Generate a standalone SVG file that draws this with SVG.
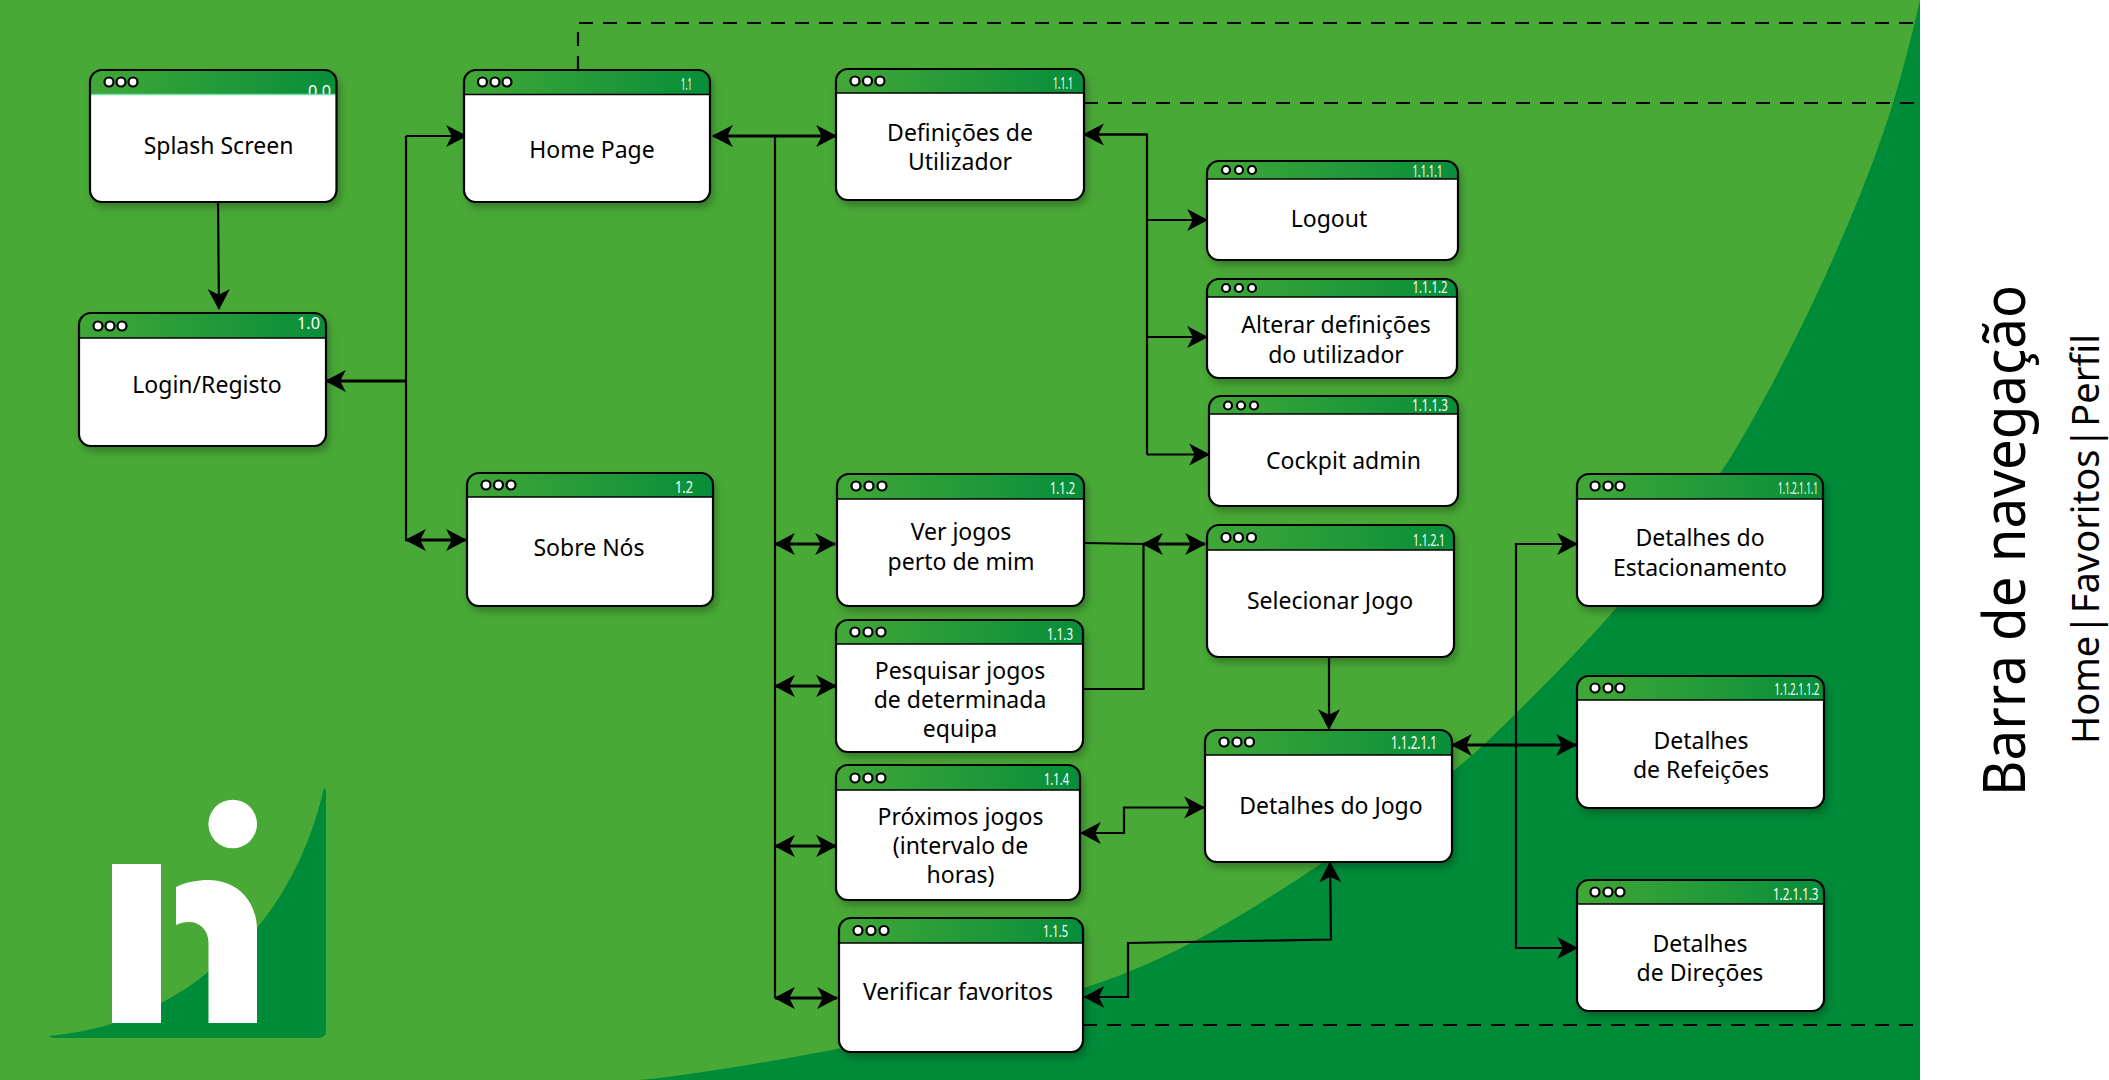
<svg xmlns="http://www.w3.org/2000/svg" width="2109" height="1080" viewBox="0 0 2109 1080">
<defs>
<linearGradient id="hg" x1="0" y1="0" x2="1" y2="0"><stop offset="0" stop-color="#41a737"/><stop offset="1" stop-color="#078e3a"/></linearGradient>
<filter id="sh" x="-10%" y="-10%" width="125%" height="130%"><feDropShadow dx="3" dy="5" stdDeviation="4" flood-color="#000" flood-opacity="0.3"/></filter>
<marker id="ah" markerUnits="userSpaceOnUse" markerWidth="22" markerHeight="24" refX="18" refY="10" orient="auto-start-reverse" viewBox="0 0 20 20"><path d="M0,0 L19,10 L0,20 L5,10 Z" fill="#000"/></marker>
<style>
.box{fill:#fff;filter:url(#sh)}
.ol{fill:none;stroke:#000;stroke-width:2.2}
.hd{fill:url(#hg)}
.hl{stroke:#000;stroke-width:1.5}
.dot{fill:#fff;stroke:#000;stroke-width:2.2}
.lb{font-family:"Noto Sans","Liberation Sans",sans-serif;font-size:23px;fill:#000;text-anchor:middle}
.cd{font-family:"Noto Sans","Liberation Sans",sans-serif;font-size:16px;fill:#fff}
.c{fill:none;stroke:#000;stroke-width:2.2}
.a{marker-end:url(#ah)}
.b{marker-start:url(#ah);marker-end:url(#ah)}
.h{stroke-width:3}
.d{fill:none;stroke:#000;stroke-width:2.2;stroke-dasharray:14 10}
.side{font-family:"Noto Sans","Liberation Sans",sans-serif;fill:#000}
</style>
</defs>
<rect width="2109" height="1080" fill="#48a936"/>
<path d="M640 1080 C700 1075 920 1040 1084 988 C1170 961 1245 915 1325 861 C1390 818 1450 780 1500 729 C1540 690 1580 650 1618 606 C1660 555 1700 505 1729 460 C1790 360 1860 210 1893 103 C1903 70 1912 35 1920 0 L1920 1080 Z" fill="#008b38"/>
<rect x="1920" y="0" width="189" height="1080" fill="#fff"/>
<g id="logo">
<path d="M49 1036 C90 1032 130 1021 161 1003 C180 993 195 983 208 972 C225 959 243 945 257 928 C290 888 312 840 324 788 Q326 788 326 792 L326 1030 Q326 1038 318 1038 L54 1038 Q51 1038 49 1036 Z" fill="#008b38"/>
<rect x="112" y="864" width="49" height="159" fill="#fff"/>
<circle cx="232.7" cy="824" r="24.3" fill="#fff"/>
<path d="M176 887 C186 882 198 880 208 880 C238 880 257 902 257 930 L257 1023 L208.5 1023 L208.5 943 C208.5 930 200 922 189 922 C184 922 180 923 176 925 Z" fill="#fff"/>
</g>
<g id="connectors">
<path class="d" d="M578 70 V23 H1920"/>
<path class="d" d="M1084 103 H1920"/>
<path class="d" d="M1083 1025 H1920"/>
<path class="c a" d="M218 202 L219 309"/>
<path class="c" d="M406 136 V541"/>
<path class="c a" d="M406 136 H466"/>
<path class="c a h" d="M406 381 H326"/>
<path class="c b h" d="M406 540 H466"/>
<path class="c b h" d="M713 136 H836"/>
<path class="c" d="M775 136 V998"/>
<path class="c b h" d="M775 544 H835"/>
<path class="c b h" d="M775 686 H836"/>
<path class="c b h" d="M775 846 H836"/>
<path class="c b h" d="M775 998 H837"/>
<path class="c" d="M1084 134.500 H1147 V454.500"/>
<path class="c a" d="M1147 134.500 H1084"/>
<path class="c a" d="M1147 220 H1207"/>
<path class="c a" d="M1147 337 H1207"/>
<path class="c a" d="M1147 454.500 H1209"/>
<path class="c" d="M1084 543 L1143.500 544 V689 H1083"/>
<path class="c b h" d="M1143 544 H1205"/>
<path class="c a" d="M1329 657 V729"/>
<path class="c b" d="M1081 833 H1124 V807.500 H1204"/>
<path class="c b" d="M1084.500 997 H1128 V943 L1331 939.500 L1330 862.500"/>
<path class="c" d="M1577 544 H1516 V948 H1577"/>
<path class="c a" d="M1516 544 H1577"/>
<path class="c a" d="M1516 948 H1577"/>
<path class="c b h" d="M1452 745 H1576"/>
</g>
<g id="n00"><rect class="box" x="90" y="70" width="246.500" height="132" rx="12"/><path class="hd" d="M90 94.500 V82 Q90 70 102 70 H324.500 Q336.500 70 336.500 82 V94.500 Z"/><text class="cd" x="308" y="97" textLength="23" lengthAdjust="spacingAndGlyphs" style="font-size:17px">0.0</text><rect x="90" y="94.500" width="246.500" height="30" fill="#fff"/><path class="hl" d="M90 94.500 H336.500" style="stroke:#7da"/><circle class="dot" cx="109" cy="82" r="4.500"/><circle class="dot" cx="121" cy="82" r="4.500"/><circle class="dot" cx="133" cy="82" r="4.500"/><rect class="ol" x="90" y="70" width="246.500" height="132" rx="12"/><text class="lb" x="218.500" y="154">Splash Screen</text></g>
<g id="n10"><rect class="box" x="79" y="313" width="247" height="133" rx="12"/><path class="hd" d="M79 338 V325 Q79 313 91 313 H314 Q326 313 326 325 V338 Z"/><path class="hl" d="M79 338 H326"/><text class="cd" x="297" y="329" textLength="23" lengthAdjust="spacingAndGlyphs" style="font-size:17px">1.0</text><circle class="dot" cx="98" cy="326" r="4.500"/><circle class="dot" cx="110" cy="326" r="4.500"/><circle class="dot" cx="122" cy="326" r="4.500"/><rect class="ol" x="79" y="313" width="247" height="133" rx="12"/><text class="lb" x="207" y="393">Login/Registo</text></g>
<g id="n11"><rect class="box" x="464" y="70" width="246" height="132" rx="12"/><path class="hd" d="M464 94.500 V82 Q464 70 476 70 H698 Q710 70 710 82 V94.500 Z"/><path class="hl" d="M464 94.500 H710"/><text class="cd" x="681" y="90" textLength="11" lengthAdjust="spacingAndGlyphs">1.1</text><circle class="dot" cx="482.500" cy="82" r="4.500"/><circle class="dot" cx="495" cy="82" r="4.500"/><circle class="dot" cx="507" cy="82" r="4.500"/><rect class="ol" x="464" y="70" width="246" height="132" rx="12"/><text class="lb" x="592" y="157.500">Home Page</text></g>
<g id="n12"><rect class="box" x="467" y="473" width="246" height="133" rx="12"/><path class="hd" d="M467 497 V485 Q467 473 479 473 H701 Q713 473 713 485 V497 Z"/><path class="hl" d="M467 497 H713"/><text class="cd" x="675" y="493" textLength="18" lengthAdjust="spacingAndGlyphs">1.2</text><circle class="dot" cx="486" cy="485" r="4.500"/><circle class="dot" cx="498.500" cy="485" r="4.500"/><circle class="dot" cx="511" cy="485" r="4.500"/><rect class="ol" x="467" y="473" width="246" height="133" rx="12"/><text class="lb" x="589" y="556">Sobre Nós</text></g>
<g id="n111"><rect class="box" x="836" y="69" width="248" height="131" rx="12"/><path class="hd" d="M836 93 V81 Q836 69 848 69 H1072 Q1084 69 1084 81 V93 Z"/><path class="hl" d="M836 93 H1084"/><text class="cd" x="1053" y="89" textLength="20" lengthAdjust="spacingAndGlyphs">1.1.1</text><circle class="dot" cx="855" cy="81" r="4.500"/><circle class="dot" cx="867.500" cy="81" r="4.500"/><circle class="dot" cx="880" cy="81" r="4.500"/><rect class="ol" x="836" y="69" width="248" height="131" rx="12"/><text class="lb" x="960" y="141">Definições de</text><text class="lb" x="960" y="170">Utilizador</text></g>
<g id="n1111"><rect class="box" x="1207" y="161" width="251" height="99" rx="12"/><path class="hd" d="M1207 179 V173 Q1207 161 1219 161 H1446 Q1458 161 1458 173 V179 Z"/><path class="hl" d="M1207 179 H1458"/><text class="cd" x="1412.500" y="177" textLength="30" lengthAdjust="spacingAndGlyphs">1.1.1.1</text><circle class="dot" cx="1226" cy="170" r="4"/><circle class="dot" cx="1239" cy="170" r="4"/><circle class="dot" cx="1252" cy="170" r="4"/><rect class="ol" x="1207" y="161" width="251" height="99" rx="12"/><text class="lb" x="1329" y="227">Logout</text></g>
<g id="n1112"><rect class="box" x="1207" y="279" width="250" height="99" rx="12"/><path class="hd" d="M1207 297 V291 Q1207 279 1219 279 H1445 Q1457 279 1457 291 V297 Z"/><path class="hl" d="M1207 297 H1457"/><text class="cd" x="1412.500" y="293" textLength="35" lengthAdjust="spacingAndGlyphs">1.1.1.2</text><circle class="dot" cx="1226" cy="288" r="4"/><circle class="dot" cx="1239" cy="288" r="4"/><circle class="dot" cx="1252" cy="288" r="4"/><rect class="ol" x="1207" y="279" width="250" height="99" rx="12"/><text class="lb" x="1336" y="333">Alterar definições</text><text class="lb" x="1336" y="363">do utilizador</text></g>
<g id="n1113"><rect class="box" x="1209" y="396" width="249" height="110" rx="12"/><path class="hd" d="M1209 414 V408 Q1209 396 1221 396 H1446 Q1458 396 1458 408 V414 Z"/><path class="hl" d="M1209 414 H1458"/><text class="cd" x="1412" y="411" textLength="36" lengthAdjust="spacingAndGlyphs">1.1.1.3</text><circle class="dot" cx="1228" cy="405.500" r="4"/><circle class="dot" cx="1241" cy="405.500" r="4"/><circle class="dot" cx="1254" cy="405.500" r="4"/><rect class="ol" x="1209" y="396" width="249" height="110" rx="12"/><text class="lb" x="1343.500" y="469">Cockpit admin</text></g>
<g id="n112"><rect class="box" x="837" y="474" width="247" height="132" rx="12"/><path class="hd" d="M837 499 V486 Q837 474 849 474 H1072 Q1084 474 1084 486 V499 Z"/><path class="hl" d="M837 499 H1084"/><text class="cd" x="1050" y="494" textLength="25" lengthAdjust="spacingAndGlyphs">1.1.2</text><circle class="dot" cx="856" cy="486" r="4.500"/><circle class="dot" cx="869" cy="486" r="4.500"/><circle class="dot" cx="882" cy="486" r="4.500"/><rect class="ol" x="837" y="474" width="247" height="132" rx="12"/><text class="lb" x="961" y="540">Ver jogos</text><text class="lb" x="961" y="569.500">perto de mim</text></g>
<g id="n113"><rect class="box" x="836" y="620" width="247" height="132" rx="12"/><path class="hd" d="M836 644 V632 Q836 620 848 620 H1071 Q1083 620 1083 632 V644 Z"/><path class="hl" d="M836 644 H1083"/><text class="cd" x="1047" y="640" textLength="26" lengthAdjust="spacingAndGlyphs">1.1.3</text><circle class="dot" cx="855" cy="632" r="4.500"/><circle class="dot" cx="868" cy="632" r="4.500"/><circle class="dot" cx="881" cy="632" r="4.500"/><rect class="ol" x="836" y="620" width="247" height="132" rx="12"/><text class="lb" x="960" y="679">Pesquisar jogos</text><text class="lb" x="960" y="708">de determinada</text><text class="lb" x="960" y="737">equipa</text></g>
<g id="n114"><rect class="box" x="836" y="765" width="244" height="135" rx="12"/><path class="hd" d="M836 790 V777 Q836 765 848 765 H1068 Q1080 765 1080 777 V790 Z"/><path class="hl" d="M836 790 H1080"/><text class="cd" x="1044" y="785" textLength="25" lengthAdjust="spacingAndGlyphs">1.1.4</text><circle class="dot" cx="855" cy="778" r="4.500"/><circle class="dot" cx="868" cy="778" r="4.500"/><circle class="dot" cx="881" cy="778" r="4.500"/><rect class="ol" x="836" y="765" width="244" height="135" rx="12"/><text class="lb" x="960.500" y="825">Próximos jogos</text><text class="lb" x="960.500" y="854">(intervalo de</text><text class="lb" x="960.500" y="883">horas)</text></g>
<g id="n115"><rect class="box" x="839" y="918" width="244" height="134" rx="12"/><path class="hd" d="M839 943 V930 Q839 918 851 918 H1071 Q1083 918 1083 930 V943 Z"/><path class="hl" d="M839 943 H1083"/><text class="cd" x="1043" y="936.500" textLength="25" lengthAdjust="spacingAndGlyphs">1.1.5</text><circle class="dot" cx="858" cy="930.500" r="4.500"/><circle class="dot" cx="871" cy="930.500" r="4.500"/><circle class="dot" cx="884" cy="930.500" r="4.500"/><rect class="ol" x="839" y="918" width="244" height="134" rx="12"/><text class="lb" x="958" y="1000">Verificar favoritos</text></g>
<g id="n1121"><rect class="box" x="1207" y="525" width="247" height="132" rx="12"/><path class="hd" d="M1207 550 V537 Q1207 525 1219 525 H1442 Q1454 525 1454 537 V550 Z"/><path class="hl" d="M1207 550 H1454"/><text class="cd" x="1413" y="546" textLength="32" lengthAdjust="spacingAndGlyphs">1.1.2.1</text><circle class="dot" cx="1226" cy="537.500" r="4.500"/><circle class="dot" cx="1238.500" cy="537.500" r="4.500"/><circle class="dot" cx="1251.500" cy="537.500" r="4.500"/><rect class="ol" x="1207" y="525" width="247" height="132" rx="12"/><text class="lb" x="1330" y="609">Selecionar Jogo</text></g>
<g id="n11211"><rect class="box" x="1205" y="730" width="247" height="132" rx="12"/><path class="hd" d="M1205 755 V742 Q1205 730 1217 730 H1440 Q1452 730 1452 742 V755 Z"/><path class="hl" d="M1205 755 H1452"/><text class="cd" x="1391" y="749" textLength="46" lengthAdjust="spacingAndGlyphs" style="font-size:18px">1.1.2.1.1</text><circle class="dot" cx="1224" cy="742" r="4.500"/><circle class="dot" cx="1237" cy="742" r="4.500"/><circle class="dot" cx="1249.500" cy="742" r="4.500"/><rect class="ol" x="1205" y="730" width="247" height="132" rx="12"/><text class="lb" x="1331" y="814">Detalhes do Jogo</text></g>
<g id="n112111"><rect class="box" x="1577" y="474" width="246" height="132" rx="12"/><path class="hd" d="M1577 499 V486 Q1577 474 1589 474 H1811 Q1823 474 1823 486 V499 Z"/><path class="hl" d="M1577 499 H1823"/><text class="cd" x="1778" y="494" textLength="40" lengthAdjust="spacingAndGlyphs">1.1.2.1.1.1</text><circle class="dot" cx="1595" cy="486" r="4.500"/><circle class="dot" cx="1608" cy="486" r="4.500"/><circle class="dot" cx="1620" cy="486" r="4.500"/><rect class="ol" x="1577" y="474" width="246" height="132" rx="12"/><text class="lb" x="1700" y="546">Detalhes do</text><text class="lb" x="1700" y="576">Estacionamento</text></g>
<g id="n112112"><rect class="box" x="1577" y="676" width="247" height="132" rx="12"/><path class="hd" d="M1577 700 V688 Q1577 676 1589 676 H1812 Q1824 676 1824 688 V700 Z"/><path class="hl" d="M1577 700 H1824"/><text class="cd" x="1774.500" y="695" textLength="45" lengthAdjust="spacingAndGlyphs">1.1.2.1.1.2</text><circle class="dot" cx="1595" cy="688" r="4.500"/><circle class="dot" cx="1608" cy="688" r="4.500"/><circle class="dot" cx="1620" cy="688" r="4.500"/><rect class="ol" x="1577" y="676" width="247" height="132" rx="12"/><text class="lb" x="1701" y="749">Detalhes</text><text class="lb" x="1701" y="778">de Refeições</text></g>
<g id="n12113"><rect class="box" x="1577" y="880" width="247" height="131" rx="12"/><path class="hd" d="M1577 904 V892 Q1577 880 1589 880 H1812 Q1824 880 1824 892 V904 Z"/><path class="hl" d="M1577 904 H1824"/><text class="cd" x="1773" y="900" textLength="45.500" lengthAdjust="spacingAndGlyphs">1.2.1.1.3</text><circle class="dot" cx="1595" cy="892" r="4.500"/><circle class="dot" cx="1608" cy="892" r="4.500"/><circle class="dot" cx="1620" cy="892" r="4.500"/><rect class="ol" x="1577" y="880" width="247" height="131" rx="12"/><text class="lb" x="1700" y="951.500">Detalhes</text><text class="lb" x="1700" y="981">de Direções</text></g>
<text class="side" transform="translate(2025 796) rotate(-90)" font-size="58" textLength="511" lengthAdjust="spacingAndGlyphs">Barra de navegação</text>
<text class="side" transform="translate(2099 744) rotate(-90)" font-size="38" style="word-spacing:-9px">Home | Favoritos | Perfil</text>
</svg>
